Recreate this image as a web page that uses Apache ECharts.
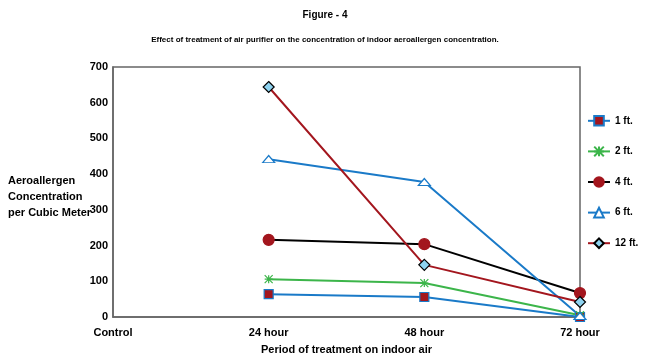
<!DOCTYPE html>
<html><head><meta charset="utf-8">
<script src="https://cdn.jsdelivr.net/npm/echarts@6/dist/echarts.min.js"></script>
<style>html,body{margin:0;padding:0;background:#fff}#c{width:650px;height:363px}</style>
</head><body><div id="c"></div>
<script>
const categories = ['Control', '24 hour', '48 hour', '72 hour'];
const s1ft = [null, 64, 56, 0];
const s2ft = [null, 106, 95, 5];
const s4ft = [null, 216, 204, 67];
const s6ft = [null, 442, 378, 3];
const s12ft = [null, 644, 146, 42];
const yTicks = [0, 100, 200, 300, 400, 500, 600, 700];
const F = '"Liberation Sans", Arial, sans-serif';

const chart = echarts.init(document.getElementById('c'));
function mk(name, data, lineColor, symbol, fill, border, size) {
  return {
    name, type: 'line', data, symbol, symbolSize: size, showSymbol: true, connectNulls: false,
    lineStyle: { color: lineColor, width: 2 },
    itemStyle: { color: fill, borderColor: border, borderWidth: 1.2 },
    emphasis: { disabled: true }, animation: false, z: 3
  };
}
chart.setOption({
  animation: false,
  title: [
    { text: 'Figure - 4', left: 'center', top: 5, textStyle: { fontFamily: F, fontWeight: 'bold', fontSize: 10, color: '#000' } },
    { text: 'Effect of treatment of air purifier on the concentration of indoor aeroallergen concentration.', left: 'center', top: 31, textStyle: { fontFamily: F, fontWeight: 'bold', fontSize: 8, color: '#000' } },
    { text: 'Aeroallergen\nConcentration\nper Cubic Meter', left: 3, top: 168, textStyle: { fontFamily: F, fontWeight: 'bold', fontSize: 11, lineHeight: 16, color: '#000' } }
  ],
  grid: { left: 113, right: 70, top: 67, bottom: 46, show: true, borderColor: '#666', borderWidth: 1.5, containLabel: false },
  legend: {
    orient: 'vertical', left: 582, top: 110, itemGap: 19, itemWidth: 22, itemHeight: 12,
    textStyle: { fontFamily: F, fontWeight: 'bold', fontSize: 10, color: '#000' },
    data: ['1 ft.', '2 ft.', '4 ft.', '6 ft.', '12 ft.']
  },
  xAxis: {
    type: 'category', data: categories, boundaryGap: false,
    name: 'Period of treatment on indoor air', nameLocation: 'middle', nameGap: 27,
    nameTextStyle: { fontFamily: F, fontWeight: 'bold', fontSize: 11, color: '#000' },
    axisLine: { lineStyle: { color: '#666', width: 1.5 } }, axisTick: { show: false },
    axisLabel: { fontFamily: F, fontWeight: 'bold', fontSize: 11, color: '#000', margin: 10 },
    splitLine: { show: false }
  },
  yAxis: {
    type: 'value', min: yTicks[0], max: yTicks[yTicks.length - 1], interval: 100,
    axisLine: { show: true, lineStyle: { color: '#666', width: 1.5 } }, axisTick: { show: false },
    axisLabel: { fontFamily: F, fontWeight: 'bold', fontSize: 11, color: '#000', margin: 5 },
    splitLine: { show: false }
  },
  series: [
    mk('1 ft.', s1ft, '#1a7ac8', 'rect', '#a3161e', '#1a7ac8', 9),
    mk('2 ft.', s2ft, '#3cb54a', 'path://M0,0L10,10M10,0L0,10M5,0L5,10M0,5L10,5', '#3cb54a', '#3cb54a', 8),
    mk('4 ft.', s4ft, '#000000', 'circle', '#a3161e', '#a3161e', 11),
    mk('6 ft.', s6ft, '#1a7ac8', 'path://M0,7L6,0L12,7Z', '#ffffff', '#1a7ac8', [12, 7]),
    mk('12 ft.', s12ft, '#a3161e', 'diamond', '#8fd3f0', '#000000', 11)
  ]
});
</script></body></html>
